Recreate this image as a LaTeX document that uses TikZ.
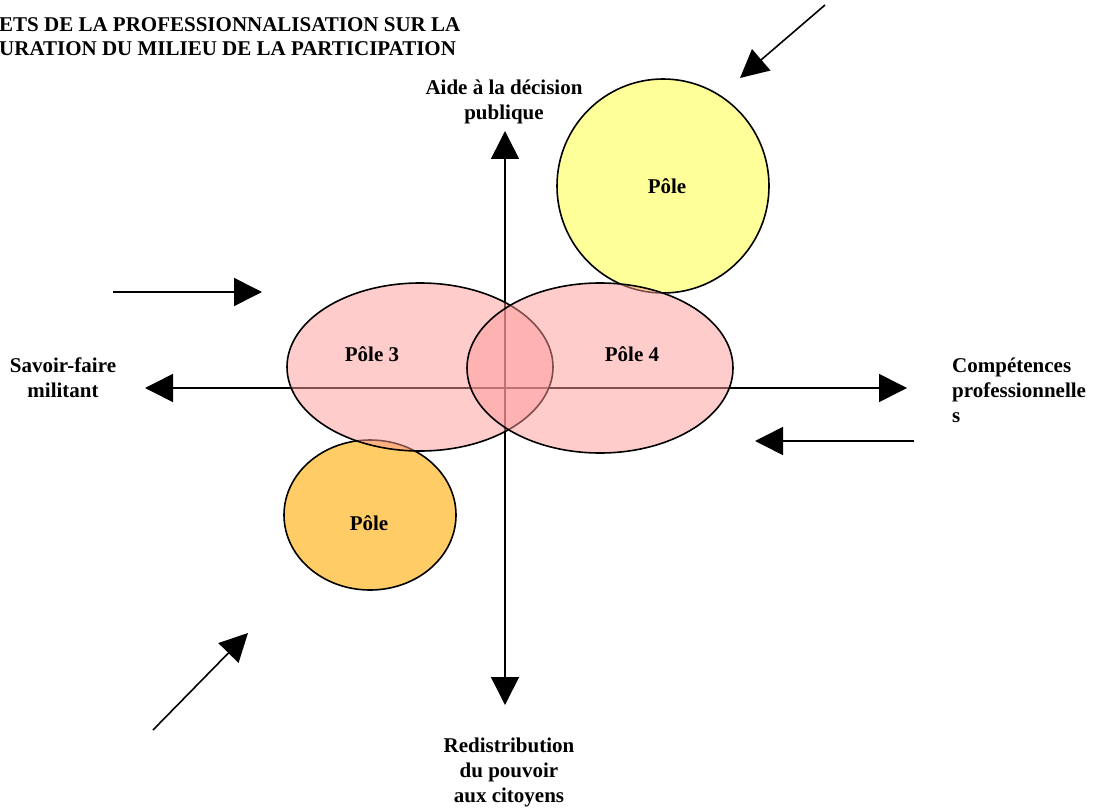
\documentclass[tikz,border=0pt]{standalone}
\usepackage{fontspec}
\setmainfont{Liberation Serif}
\usetikzlibrary{arrows.meta,shapes.geometric}
\definecolor{yel}{RGB}{255,255,153}
\definecolor{ora}{RGB}{255,204,102}
\definecolor{pnk}{RGB}{255,153,153}
\tikzset{
  axis/.style={line width=1.6pt,-{Triangle[length=28pt,width=28pt]}},
  baxis/.style={line width=1.6pt,{Triangle[length=28pt,width=28pt]}-{Triangle[length=28pt,width=28pt]}},
  lbl/.style={font=\fontsize{21}{25}\selectfont\bfseries,inner sep=0pt,align=center},
  pole/.style={draw=black,line width=1.6pt,ellipse,inner sep=0pt},
  pinkpole/.style={pole,fill=pnk,fill opacity=0.5},
}
\begin{document}
\begin{tikzpicture}[x=1pt,y=-1pt]
\useasboundingbox (0,0) rectangle (1099,810);
% title
\node[lbl,anchor=north west,align=left,font=\fontsize{21}{24}\selectfont\bfseries] (title) at (-1,17)
  {ETS DE LA PROFESSIONNALISATION SUR LA\\URATION DU MILIEU DE LA PARTICIPATION};
% axis endpoints
\coordinate (vt) at (505,131);
\coordinate (vb) at (505,705);
\coordinate (hl) at (145,388);
\coordinate (hr) at (907,388);
\draw[baxis] (vb) -- (vt);
\draw[baxis] (hl) -- (hr);
% poles
\node[pole,fill=yel,minimum width=212pt,minimum height=214pt] (p1) at (663,186) {};
\node[pole,fill=ora,minimum width=172pt,minimum height=150pt] (p2) at (370,515) {};
\node[pinkpole,minimum width=266pt,minimum height=168pt] (p3) at (420,367) {};
\node[pinkpole,minimum width=266pt,minimum height=170pt] (p4) at (600,368) {};
\node[lbl] (l1) at (667,186) {Pôle};
\node[lbl] (l2) at (369,523) {Pôle};
\node[lbl] (l3) at (372,354) {Pôle 3};
\node[lbl] (l4) at (632,354) {Pôle 4};
% axis labels
\node[lbl] (top) at (504,102) {Aide à la décision\\publique};
\node[lbl] (left) at (63,378) {Savoir-faire\\militant};
\node[lbl,anchor=west,align=left] (right) at (952,390) {Compétences\\professionnelle\\s};
\node[lbl] (bottom) at (509,772) {Redistribution\\du pouvoir\\aux citoyens};
% free arrows
\coordinate (a1s) at (825,5);   \coordinate (a1e) at (740,78);
\coordinate (a2s) at (113,292); \coordinate (a2e) at (262,292);
\coordinate (a3s) at (914,441); \coordinate (a3e) at (755,441);
\coordinate (a4s) at (153,730); \coordinate (a4e) at (248,633);
\draw[axis] (a1s) -- (a1e);
\draw[axis] (a2s) -- (a2e);
\draw[axis] (a3s) -- (a3e);
\draw[axis] (a4s) -- (a4e);
\end{tikzpicture}
\end{document}
